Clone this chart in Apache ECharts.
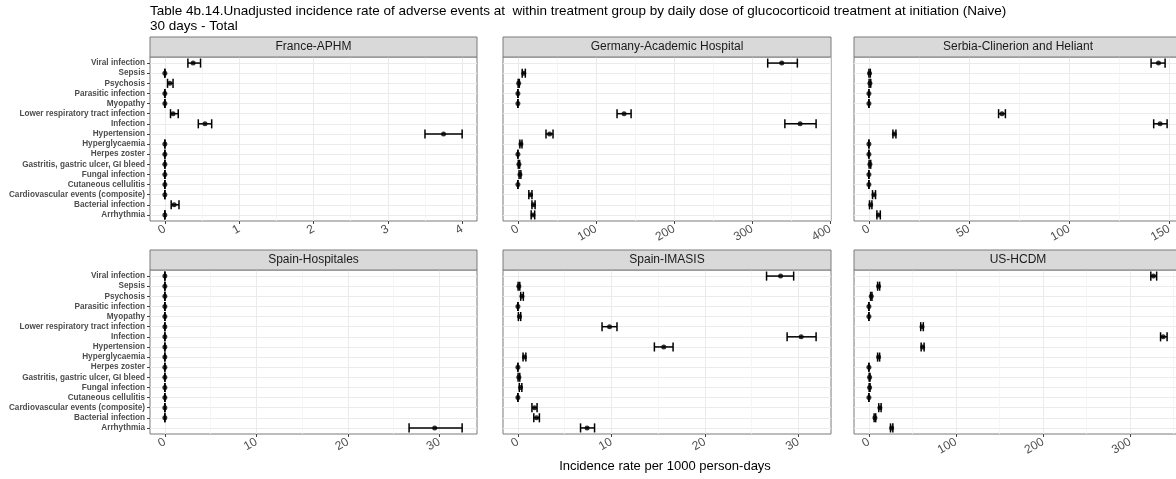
<!DOCTYPE html>
<html><head><meta charset="utf-8">
<script src="https://cdn.jsdelivr.net/npm/echarts@6/dist/echarts.min.js"></script>
<style>html,body{margin:0;padding:0;background:#fff}#c{width:1176px;height:479px}</style>
</head><body><div id="c"></div><script>
// categories from bottom to top
const categories = ['Arrhythmia','Bacterial infection','Cardiovascular events (composite)','Cutaneous cellulitis','Fungal infection','Gastritis, gastric ulcer, GI bleed','Herpes zoster','Hyperglycaemia','Hypertension','Infection','Lower respiratory tract infection','Myopathy','Parasitic infection','Psychosis','Sepsis','Viral infection'];
const panelNames = ['France-APHM','Germany-Academic Hospital','Serbia-Clinerion and Heliant','Spain-Hospitales','Spain-IMASIS','US-HCDM'];

const franceEst = [0, 0.125, 0, 0, 0, 0, 0, 0, 3.75, 0.54, 0.11, 0, 0, 0.067, 0, 0.38];
const franceLo  = [0, 0.085, 0, 0, 0, 0, 0, 0, 3.50, 0.45, 0.076, 0, 0, 0.036, 0, 0.31];
const franceHi  = [0, 0.19, 0, 0, 0, 0, 0, 0, 4.00, 0.63, 0.18, 0, 0, 0.11, 0, 0.48];

const germanyEst = [19.3, 20, 16.2, 0, 2.6, 1.3, 0, 3.8, 40.6, 361.5, 136, 0, 0, 1, 7.5, 338];
const germanyLo  = [17, 18, 14, 0, 1.5, 0.5, 0, 2.5, 36, 342, 127, 0, 0, 0.3, 5.5, 320];
const germanyHi  = [21.5, 22, 18, 0, 3.8, 2.2, 0, 5.2, 45, 382, 145, 0, 0, 1.8, 9.5, 358];

const serbiaEst = [4.8, 0.9, 2.5, 0, 0, 0.5, 0, 0, 12.7, 145.5, 66.5, 0, 0, 0.5, 0.3, 144.7];
const serbiaLo  = [4.0, 0.3, 1.8, 0, 0, 0.1, 0, 0, 12.0, 142.3, 64.8, 0, 0, 0.1, 0, 141];
const serbiaHi  = [5.7, 1.5, 3.3, 0, 0, 0.9, 0, 0, 13.5, 149, 68.2, 0, 0, 0.9, 0.7, 148];

const spainHEst = [29.5, 0, 0, 0, 0, 0, 0, 0, 0, 0, 0, 0, 0, 0, 0, 0];
const spainHLo  = [26.7, 0, 0, 0, 0, 0, 0, 0, 0, 0, 0, 0, 0, 0, 0, 0];
const spainHHi  = [32.5, 0, 0, 0, 0, 0, 0, 0, 0, 0, 0, 0, 0, 0, 0, 0];

const imasisEst = [7.4, 2.0, 1.78, 0, 0.28, 0.1, 0, 0.7, 15.6, 30.3, 9.8, 0.17, 0, 0.43, 0.1, 28.1];
const imasisLo  = [6.7, 1.7, 1.5, 0, 0.15, 0.02, 0, 0.55, 14.6, 28.8, 9.0, 0.05, 0, 0.3, 0.02, 26.6];
const imasisHi  = [8.2, 2.3, 2.05, 0, 0.42, 0.2, 0, 0.85, 16.6, 31.9, 10.6, 0.3, 0, 0.58, 0.2, 29.5];

const usEst = [26.1, 6.9, 12.6, 0, 0.8, 0.8, 0, 11.1, 61.7, 338, 61, 0, 0, 2.7, 11.1, 326.8];
const usLo  = [24.8, 6.0, 11.3, 0, 0.3, 0.3, 0, 10.0, 60.0, 335, 59.5, 0, 0, 2.0, 10.0, 323.8];
const usHi  = [27.5, 7.8, 14.0, 0, 1.3, 1.3, 0, 12.3, 63.4, 342.5, 62.5, 0, 0, 3.5, 12.3, 330.5];

const franceTicks = [0, 1, 2, 3, 4];
const germanyTicks = [0, 100, 200, 300, 400];
const serbiaTicks = [0, 50, 100, 150];
const spainHTicks = [0, 10, 20, 30];
const imasisTicks = [0, 10, 20, 30];
const usTicks = [0, 100, 200, 300];

const titleLines = ['Table 4b.14.Unadjusted incidence rate of adverse events at  within treatment group by daily dose of glucocorticoid treatment at initiation (Naive)', '30 days - Total'];
const xTitle = 'Incidence rate per 1000 person-days';

const panels = [
  {name: panelNames[0], est: franceEst, lo: franceLo, hi: franceHi, ticks: franceTicks},
  {name: panelNames[1], est: germanyEst, lo: germanyLo, hi: germanyHi, ticks: germanyTicks},
  {name: panelNames[2], est: serbiaEst, lo: serbiaLo, hi: serbiaHi, ticks: serbiaTicks},
  {name: panelNames[3], est: spainHEst, lo: spainHLo, hi: spainHHi, ticks: spainHTicks},
  {name: panelNames[4], est: imasisEst, lo: imasisLo, hi: imasisHi, ticks: imasisTicks},
  {name: panelNames[5], est: usEst, lo: usLo, hi: usHi, ticks: usTicks}
];

const colLeft = [150, 503, 854];
const colWidth = [327, 328, 328];
const rowTop = [57, 270];
const PH = 164, STRIP = 20;
const FONT = "'Liberation Sans', Arial, sans-serif";
const catIdx = categories.map((c, i) => i);

const grids = [], xAxes = [], yAxes = [], series = [], graphics = [];
panels.forEach((p, i) => {
  const col = i % 3, row = Math.floor(i / 3);
  const left = colLeft[col], top = rowTop[row], width = colWidth[col];
  const dmin = Math.min(...p.lo), dmax = Math.max(...p.hi);
  const span = dmax - dmin;
  const min = dmin - 0.05 * span, max = dmax + 0.05 * span;
  const step = p.ticks[1] - p.ticks[0];
  const minor = [];
  for (let k = -1; k < p.ticks.length; k++) {
    const v = p.ticks[0] + (k + 0.5) * step;
    if (v > min && v < max) minor.push(v);
  }
  grids.push({left, top, width, height: PH, show: true, borderColor: '#7a7a7a', borderWidth: 1, backgroundColor: '#fff', containLabel: false, outerBoundsMode: 'none'});
  xAxes.push({
    type: 'value', gridIndex: i, min, max, position: 'bottom',
    axisLine: {show: false, onZero: false},
    axisTick: {show: true, length: 3, lineStyle: {color: '#444'}, customValues: p.ticks},
    axisLabel: {customValues: p.ticks, rotate: 30, color: '#4d4d4d', fontSize: 12, margin: 7, fontFamily: FONT},
    splitLine: {show: true, lineStyle: {color: '#ebebeb', width: 1}}
  });
  xAxes.push({
    type: 'value', gridIndex: i, min, max, position: 'top',
    axisLine: {show: false, onZero: false},
    axisTick: {show: false, customValues: minor},
    axisLabel: {show: false, customValues: minor},
    splitLine: {show: true, lineStyle: {color: '#f2f2f2', width: 0.8}}
  });
  yAxes.push({
    type: 'value', gridIndex: i, min: -0.6, max: categories.length - 1 + 0.6, position: 'left',
    axisLine: {show: false, onZero: false},
    axisTick: {show: col === 0, length: 3, lineStyle: {color: '#444'}, customValues: catIdx},
    axisLabel: {show: col === 0, customValues: catIdx, formatter: v => categories[Math.round(v)],
      fontWeight: 'bold', fontSize: 8.2, color: '#4d4d4d', margin: 5, fontFamily: FONT},
    splitLine: {show: true, lineStyle: {color: '#ebebeb', width: 1}}
  });
  series.push({
    type: 'custom', xAxisIndex: 2 * i, yAxisIndex: i, silent: true,
    data: p.est.map((v, k) => [p.lo[k], p.hi[k], k]),
    encode: {x: [0, 1], y: 2},
    renderItem: (params, api) => {
      const y = api.value(2);
      const a = api.coord([api.value(0), y]);
      const b = api.coord([api.value(1), y]);
      const h = api.size([0, 0.9])[1] / 2;
      const st = {stroke: '#000', lineWidth: 1.5};
      return {type: 'group', children: [
        {type: 'line', shape: {x1: a[0], y1: a[1], x2: b[0], y2: b[1]}, style: st},
        {type: 'line', shape: {x1: a[0], y1: a[1] - h, x2: a[0], y2: a[1] + h}, style: st},
        {type: 'line', shape: {x1: b[0], y1: b[1] - h, x2: b[0], y2: b[1] + h}, style: st}
      ]};
    }
  });
  series.push({
    type: 'scatter', xAxisIndex: 2 * i, yAxisIndex: i, silent: true,
    data: p.est.map((v, k) => [v, k]),
    symbol: 'circle', symbolSize: 5, itemStyle: {color: '#000'}, z: 5
  });
  graphics.push({type: 'rect', shape: {x: left, y: top - STRIP, width, height: STRIP},
    style: {fill: '#d9d9d9', stroke: '#7a7a7a', lineWidth: 1}, z: 10});
  graphics.push({type: 'text', x: left + width / 2, y: top - STRIP / 2,
    style: {text: p.name, fill: '#1a1a1a', font: `12px ${FONT}`, textAlign: 'center', textVerticalAlign: 'middle'}, z: 11});
});

graphics.push({type: 'text', x: 665, y: 466,
  style: {text: xTitle, fill: '#000', font: `13px ${FONT}`, textAlign: 'center', textVerticalAlign: 'middle'}});

const chart = echarts.init(document.getElementById('c'), null, {renderer: 'canvas'});
chart.setOption({
  animation: false,
  backgroundColor: '#fff',
  textStyle: {fontFamily: FONT},
  title: {text: titleLines.join('\n'), left: 150, top: 4, padding: 0,
    textStyle: {fontSize: 13.5, fontWeight: 'normal', color: '#000', lineHeight: 15, fontFamily: FONT}},
  grid: grids, xAxis: xAxes, yAxis: yAxes, series, graphic: graphics
});
</script></body></html>
